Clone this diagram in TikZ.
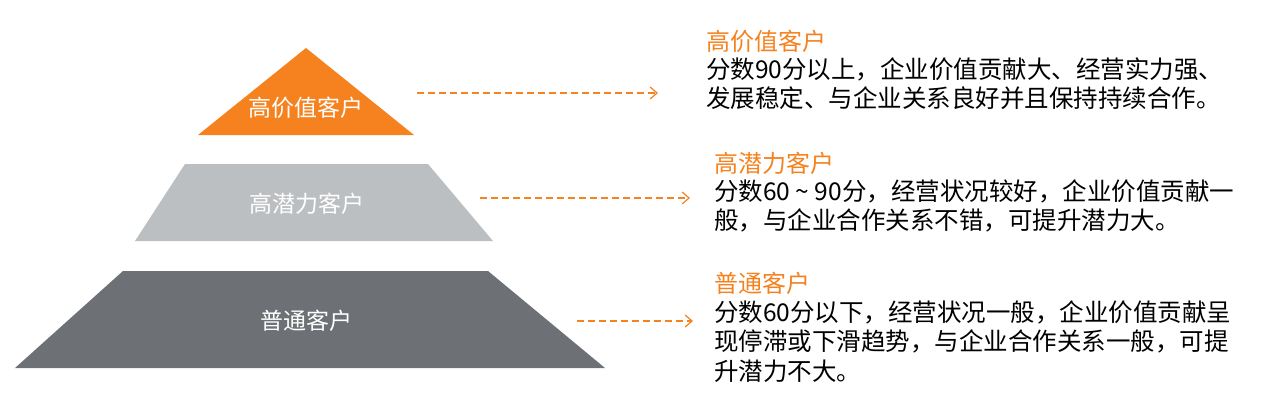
\documentclass[tikz,border=0pt]{standalone}
\usepackage{fontspec}
\setmainfont{Noto Sans CJK SC}
\usetikzlibrary{arrows.meta}
\definecolor{orn}{HTML}{F5821F}
\definecolor{lg}{HTML}{BCBFC1}
\definecolor{dg}{HTML}{6D7175}
\begin{document}
\begin{tikzpicture}[x=1pt,y=-1pt,
  lab/.style={font=\fontsize{23}{26}\selectfont,text=white},
  ttl/.style={font=\fontsize{24}{28}\selectfont,text=orn,anchor=west,inner sep=0},
  body/.style={font=\fontsize{24.5}{29.5}\selectfont,anchor=north west,inner sep=0,align=left},
  arr/.style={draw=orn,dash pattern=on 7pt off 4pt,line width=1.2pt,-{Straight Barb[length=7pt,width=12pt]}}]
\useasboundingbox (0,0) rectangle (1284,418);
\fill[orn] (306,48) -- (414,135) -- (198,135) -- cycle;
\fill[lg] (185,164) -- (428,164) -- (493,241) -- (135,241) -- cycle;
\fill[dg] (123,271) -- (488,271) -- (605,368) -- (15,368) -- cycle;
\node[lab] (t1) at (306,108) {高价值客户};
\node[lab] (t2) at (307,204) {高潜力客户};
\node[lab] (t3) at (306,321) {普通客户};
\coordinate (a1) at (417,93); \coordinate (b1) at (658,93);
\coordinate (a2) at (480,198); \coordinate (b2) at (690,198);
\coordinate (a3) at (577,321); \coordinate (b3) at (693,321);
\draw[arr] (a1) -- (b1);
\draw[arr] (a2) -- (b2);
\draw[arr] (a3) -- (b3);
\node[ttl] (h1) at (706,41) {高价值客户};
\node[body] (d1) at (706,57) {分数90分以上，企业价值贡献大、经营实力强、\\发展稳定、与企业关系良好并且保持持续合作。};
\node[ttl] (h2) at (714,163) {高潜力客户};
\node[body] (d2) at (714,179) {分数60 \textasciitilde\ 90分，经营状况较好，企业价值贡献一\\般，与企业合作关系不错，可提升潜力大。};
\node[ttl] (h3) at (714,283) {普通客户};
\node[body] (d3) at (714,300) {分数60分以下，经营状况一般，企业价值贡献呈\\现停滞或下滑趋势，与企业合作关系一般，可提\\升潜力不大。};
\end{tikzpicture}
\end{document}
